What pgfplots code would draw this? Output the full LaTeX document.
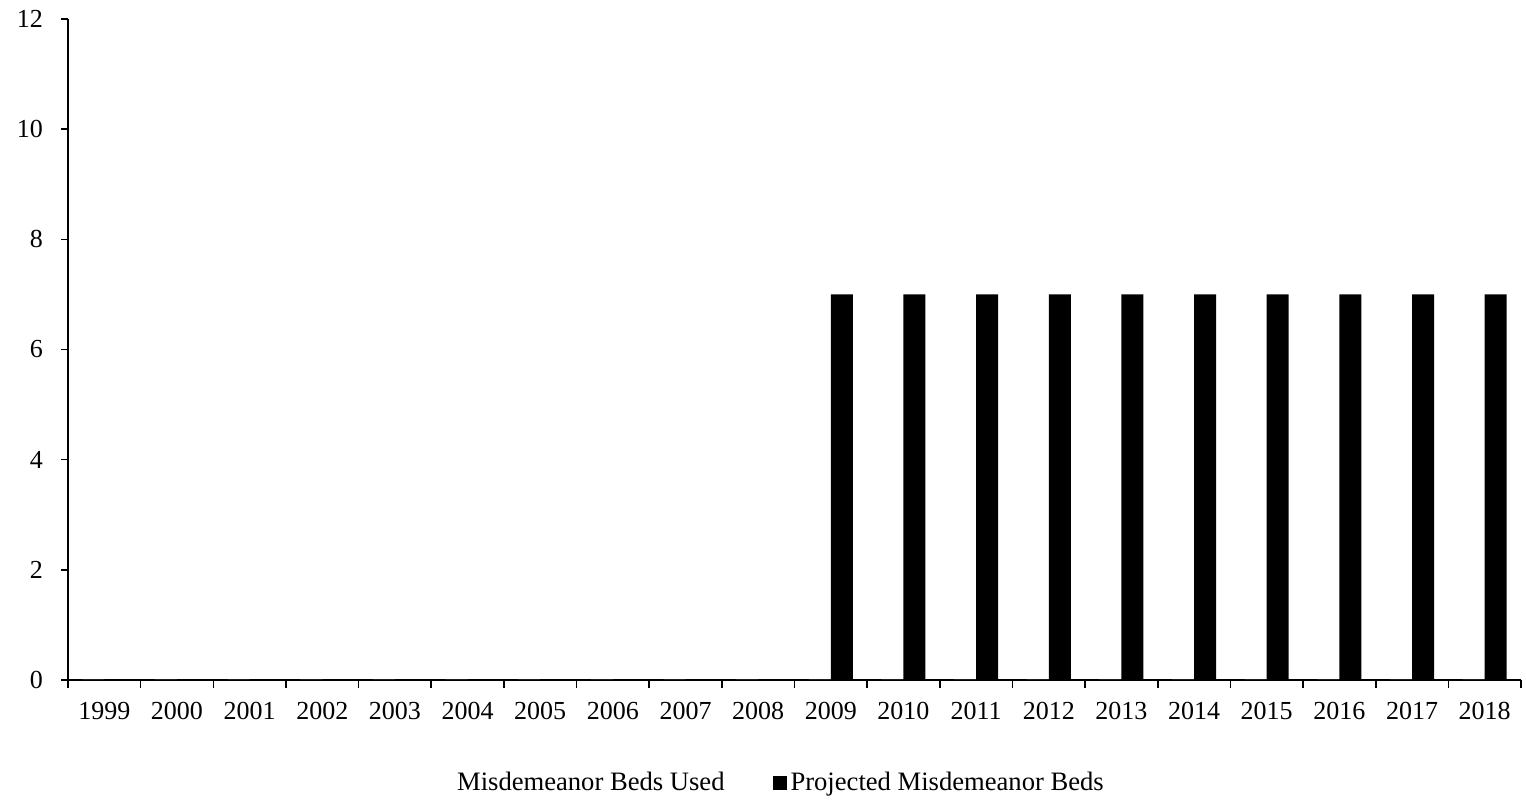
\documentclass[border=0pt]{standalone}
\usepackage{fontspec}
\setmainfont{Liberation Serif}
\usepackage{pgfplots}
\pgfplotsset{compat=1.18}
\begin{document}
\begin{tikzpicture}
\begin{axis}[
  name=ax,
  scale only axis,
  width=726.5pt, height=330.5pt,
  ybar=0pt, bar width=11pt,
  xmin=-0.5, xmax=19.5, ymin=0, ymax=12,
  ytick={0,2,...,12},
  xtick={0,...,19},
  xticklabels={1999,2000,2001,2002,2003,2004,2005,2006,2007,2008,2009,2010,2011,2012,2013,2014,2015,2016,2017,2018},
  minor xtick={-0.5,0.5,...,19.5},
  major x tick style={draw=none},
  minor tick length=4pt,
  major tick length=3.5pt,
  tick align=outside,
  axis lines*=left,
  axis line style={line width=0.9pt},
  every tick/.style={line width=0.8pt, black},
  tick label style={font=\fontsize{13}{15}\selectfont},
  /pgf/number format/assume math mode=true,
  xticklabel style={yshift=-4pt},
  yticklabel style={xshift=-5.5pt},
  legend style={at={(0.4855,-0.156)}, anchor=center, draw=none, legend columns=2,
    font=\fontsize{13.3}{15}\selectfont,
    /tikz/every even column/.append style={column sep=22pt}},
  legend image code/.code={\fill[#1] (0pt,-3.5pt) rectangle (7pt,3.5pt);},
]
\addplot[fill=white, draw=none] coordinates {(0,0) (1,0) (2,0) (3,0) (4,0) (5,0) (6,0) (7,0) (8,0) (9,0) (10,0) (11,0) (12,0) (13,0) (14,0) (15,0) (16,0) (17,0) (18,0) (19,0)};
\addlegendentry{Misdemeanor Beds Used}
\addplot[fill=black, draw=none] coordinates {(0,0) (1,0) (2,0) (3,0) (4,0) (5,0) (6,0) (7,0) (8,0) (9,0) (10,7) (11,7) (12,7) (13,7) (14,7) (15,7) (16,7) (17,7) (18,7) (19,7)};
\addlegendentry{Projected Misdemeanor Beds}
\end{axis}
\path ([xshift=-34pt,yshift=-61.5pt]ax.south west) ([xshift=2.5pt,yshift=9.5pt]ax.north east);
\end{tikzpicture}
\end{document}
